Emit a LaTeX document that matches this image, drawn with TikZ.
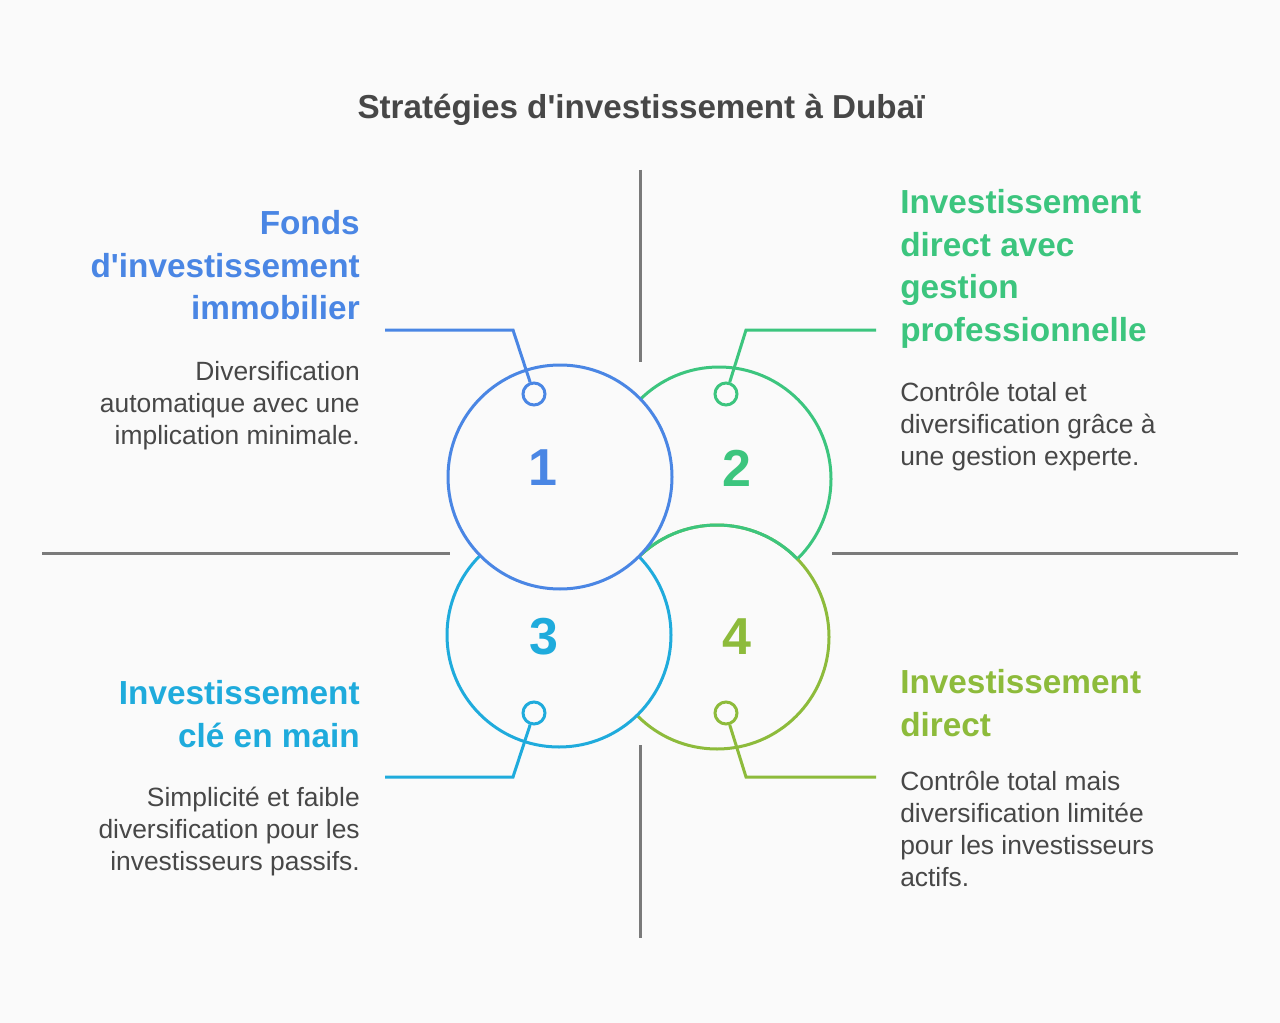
\documentclass[tikz,border=0pt]{standalone}
\usepackage{fontspec}
\setmainfont{Liberation Sans}
\usepackage{xcolor}
\usepackage{tikz}
\definecolor{bgc}{HTML}{FAFAFA}
\definecolor{blueA}{HTML}{4A86E4}
\definecolor{greenA}{HTML}{3CC57E}
\definecolor{cyanA}{HTML}{1FABDC}
\definecolor{oliveA}{HTML}{8DBB3B}
\definecolor{textA}{HTML}{474747}
\definecolor{lineA}{HTML}{7A7A7A}

\begin{document}
\begin{tikzpicture}[x=0.75pt,y=-0.75pt,
	ring/.style={circle,minimum size=168pt,inner sep=0,line width=2.25pt,fill=bgc},
	dot/.style={circle,minimum size=16.5pt,inner sep=0,line width=2.25pt,fill=bgc},
	head/.style={font=\fontsize{25}{32}\selectfont\bfseries,inner sep=0},
	desc/.style={font=\fontsize{19.8}{24}\selectfont,text=textA,inner sep=0},
	num/.style={font=\fontsize{39}{39}\selectfont\bfseries}]
		\fill[bgc] (0,0) rectangle (1280,1023);
		\useasboundingbox (0,0) rectangle (1280,1023);
		%
		\node[font=\fontsize{24.9}{28}\selectfont\bfseries,text=textA] (T) at (641,110) {Stratégies d\textquotesingle investissement à Dubaï};
		%
		\draw[lineA,line width=2.25pt] (640,170) -- (640,362) (640,745) -- (640,938)
			(42,553) -- (450,553) (832,553) -- (1238,553);
		%
		\node[ring,draw=greenA] (C2) at (719,479) {};
		\node[ring,draw=oliveA] (C4) at (717,637) {};
		\begin{scope}
			\clip (719,479) circle (84pt);
			\draw[greenA,line width=2.25pt] (717,637) circle (84pt);
		\end{scope}
		\node[ring,draw=cyanA] (C3) at (559,635) {};
		\node[ring,draw=blueA] (C1) at (560,477) {};
		%
		\node[num,text=blueA] (N1) at (543,468) {1};
		\node[num,text=greenA] (N2) at (737,468) {2};
		\node[num,text=cyanA] (N3) at (544,637) {3};
		\node[num,text=oliveA] (N4) at (737,637) {4};
		%
		\node[dot,draw=blueA] (D1) at (534,394) {};
		\node[dot,draw=greenA] (D2) at (726,394) {};
		\node[dot,draw=cyanA] (D3) at (534,713) {};
		\node[dot,draw=oliveA] (D4) at (726,713) {};
		\coordinate (K1) at (513,330); \coordinate (E1) at (385,330);
		\coordinate (K2) at (746,330); \coordinate (E2) at (876,330);
		\coordinate (K3) at (513,777); \coordinate (E3) at (385,777);
		\coordinate (K4) at (746,777); \coordinate (E4) at (876,777);
		\draw[blueA,line width=2.25pt] (E1) -- (K1) -- (D1);
		\draw[greenA,line width=2.25pt] (E2) -- (K2) -- (D2);
		\draw[cyanA,line width=2.25pt] (E3) -- (K3) -- (D3);
		\draw[oliveA,line width=2.25pt] (E4) -- (K4) -- (D4);
		%
		\node[head,text=blueA,anchor=north east,align=right] (H1) at (360,210) {Fonds\\d\textquotesingle investissement\\immobilier};
		\node[desc,anchor=north east,align=right] (L1) at (360,361) {Diversification\\automatique avec une\\implication minimale.};
		\node[head,text=greenA,anchor=north west,align=left] (H2) at (900,189) {Investissement\\direct avec\\gestion\\professionnelle};
		\node[desc,anchor=north west,align=left] (L2) at (900,382) {Contrôle total et\\diversification grâce à\\une gestion experte.};
		\node[head,text=cyanA,anchor=north east,align=right] (H3) at (360,680) {Investissement\\clé en main};
		\node[desc,anchor=north east,align=right] (L3) at (360,787) {Simplicité et faible\\diversification pour les\\investisseurs passifs.};
		\node[head,text=oliveA,anchor=north west,align=left] (H4) at (900,669) {Investissement\\direct};
		\node[desc,anchor=north west,align=left] (L4) at (900,771) {Contrôle total mais\\diversification limitée\\pour les investisseurs\\actifs.};
	\end{tikzpicture}
\end{document}
